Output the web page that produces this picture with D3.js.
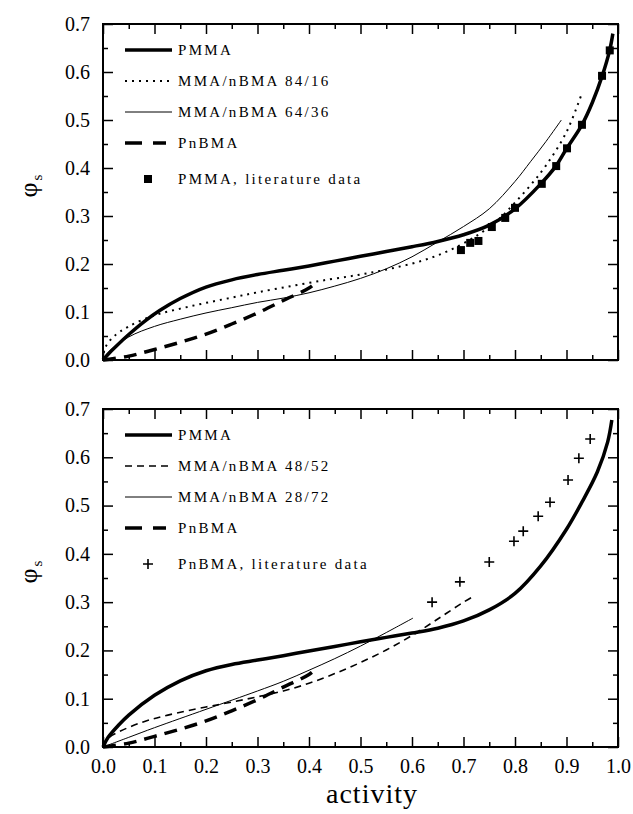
<!DOCTYPE html>
<html>
<head>
<meta charset="utf-8">
<script src="https://cdn.jsdelivr.net/npm/d3@7"></script>
<style>
  body { margin: 0; background: #fff; }
  svg text { font-family: "Liberation Serif", "Times New Roman", serif; fill: #000; }
  .tick text { font-size: 20px; }
  .tick line { stroke: #000; stroke-width: 1.5; }
  .leg { font-size: 15px; letter-spacing: 2.3px; }
</style>
</head>
<body>
<svg id="chart" width="633" height="814"></svg>
<script>
// ---- data: [activity, phi_s] ----
const pmmaTop = [[0,0],[0.01,0.012],[0.025,0.028],[0.05,0.053],[0.08,0.08],[0.11,0.103],[0.15,0.128],[0.2,0.152],[0.25,0.167],[0.3,0.178],[0.35,0.187],[0.4,0.196],[0.45,0.206],[0.5,0.216],[0.55,0.226],[0.6,0.236],[0.65,0.247],[0.7,0.261],[0.75,0.281],[0.8,0.315],[0.85,0.367],[0.88,0.405],[0.9,0.44],[0.93,0.49],[0.95,0.536],[0.97,0.594],[0.984,0.646],[0.99,0.68]]
const mma8416 = [[0,0],[0.004,0.025],[0.02,0.048],[0.05,0.07],[0.1,0.093],[0.15,0.107],[0.2,0.119],[0.25,0.13],[0.3,0.141],[0.37,0.155],[0.44,0.168],[0.5,0.178],[0.557,0.19],[0.62,0.207],[0.674,0.229],[0.73,0.262],[0.77,0.295],[0.8,0.328],[0.83,0.364],[0.86,0.405],[0.9,0.475],[0.93,0.556]]
const mma6436 = [[0,0],[0.01,0.016],[0.05,0.048],[0.1,0.07],[0.15,0.085],[0.2,0.098],[0.25,0.109],[0.3,0.12],[0.35,0.129],[0.4,0.14],[0.45,0.154],[0.5,0.17],[0.55,0.19],[0.6,0.215],[0.65,0.246],[0.7,0.278],[0.75,0.315],[0.8,0.372],[0.83,0.413],[0.86,0.455],[0.89,0.5]]
const pnbma = [[0,0],[0.05,0.008],[0.1,0.022],[0.15,0.037],[0.2,0.054],[0.25,0.075],[0.3,0.098],[0.35,0.124],[0.4,0.15],[0.415,0.163]]
const pmmaLit = [[0.695,0.229],[0.713,0.244],[0.729,0.248],[0.755,0.277],[0.781,0.296],[0.8,0.317],[0.852,0.367],[0.88,0.404],[0.901,0.441],[0.93,0.49],[0.969,0.592],[0.984,0.645]]

const pmmaBot = [[0,0],[0.01,0.02],[0.03,0.045],[0.05,0.066],[0.1,0.107],[0.15,0.137],[0.2,0.158],[0.25,0.171],[0.3,0.18],[0.35,0.189],[0.4,0.199],[0.45,0.208],[0.5,0.218],[0.55,0.227],[0.6,0.236],[0.65,0.246],[0.7,0.261],[0.75,0.284],[0.8,0.318],[0.85,0.375],[0.9,0.451],[0.93,0.507],[0.96,0.57],[0.98,0.632],[0.988,0.677]]
const mma4852 = [[0,0],[0.01,0.018],[0.03,0.031],[0.078,0.052],[0.126,0.066],[0.2,0.083],[0.25,0.093],[0.3,0.104],[0.35,0.116],[0.4,0.132],[0.45,0.152],[0.5,0.175],[0.55,0.201],[0.6,0.231],[0.65,0.265],[0.7,0.3],[0.718,0.311]]
const mma2872 = [[0,0],[0.05,0.02],[0.1,0.04],[0.2,0.078],[0.3,0.116],[0.35,0.136],[0.4,0.159],[0.45,0.183],[0.5,0.209],[0.55,0.237],[0.602,0.267]]
const pnbmaLit = [[0.639,0.3],[0.693,0.342],[0.75,0.383],[0.798,0.426],[0.816,0.447],[0.845,0.478],[0.868,0.507],[0.903,0.553],[0.924,0.598],[0.946,0.638]]

const xMajor = d3.range(0, 1.0001, 0.1)
const xMinor = d3.range(0.05, 1, 0.1)
const yMajor = d3.range(0, 0.7001, 0.1)
const yMinor = d3.range(0.05, 0.7, 0.1)

const svg = d3.select('#chart')
const left = 103, right = 618
const x = d3.scaleLinear().domain([0, 1]).range([left, right])

// line styles
const styles = {
  solidThick: { w: 3.5, dash: null },
  dotted: { w: 2, dash: '2,5' },
  thin: { w: 1, dash: null },
  dashThick: { w: 3.5, dash: '13,8' },
  dashThin: { w: 1.6, dash: '7,5' }
}

function drawPanel(top, bottom, series, points, marker, showXLabels) {
  const y = d3.scaleLinear().domain([0, 0.7]).range([bottom, top])
  const g = svg.append('g')

  // ticks on all four sides, pointing inward
  const addAxis = (axisFn, scale, vals, size, tr, labels) => {
    const ax = axisFn(scale).tickValues(vals).tickSize(-size).tickSizeOuter(0)
    if (labels) ax.tickFormat(d3.format('.1f'))
    else ax.tickFormat('')
    const a = g.append('g').attr('transform', tr).call(ax)
    a.select('.domain').remove()
    return a
  }
  const xb = addAxis(d3.axisBottom, x, xMajor, 10, `translate(0,${bottom})`, showXLabels)
  xb.call(a => a.selectAll('text').attr('y', 12))
  addAxis(d3.axisBottom, x, xMinor, 5, `translate(0,${bottom})`, false)
  addAxis(d3.axisTop, x, xMajor, 10, `translate(0,${top})`, false)
  addAxis(d3.axisTop, x, xMinor, 5, `translate(0,${top})`, false)
  const yl = addAxis(d3.axisLeft, y, yMajor, 10, `translate(${left},0)`, true)
  yl.call(a => a.selectAll('text').attr('x', -13))
  addAxis(d3.axisLeft, y, yMinor, 5, `translate(${left},0)`, false)
  addAxis(d3.axisRight, y, yMajor, 10, `translate(${right},0)`, false)
  addAxis(d3.axisRight, y, yMinor, 5, `translate(${right},0)`, false)

  g.append('rect')
    .attr('x', left).attr('y', top)
    .attr('width', right - left).attr('height', bottom - top)
    .attr('fill', 'none').attr('stroke', '#000').attr('stroke-width', 2)

  const line = d3.line().x(d => x(d[0])).y(d => y(d[1])).curve(d3.curveCatmullRom.alpha(0.5))

  series.forEach((s, i) => {
    const st = styles[s.style]
    g.append('path')
      .datum(s.data)
      .attr('d', line)
      .attr('fill', 'none')
      .attr('stroke', '#000')
      .attr('stroke-width', st.w)
      .attr('stroke-dasharray', st.dash)

    // legend
    const ly = top + 26 + i * 31
    g.append('line')
      .attr('x1', 125).attr('x2', s.style == 'dashThick' ? 166 : 172)
      .attr('y1', ly).attr('y2', ly)
      .attr('stroke', '#000')
      .attr('stroke-width', st.w)
      .attr('stroke-dasharray', s.style == 'dashThick' ? '17,11' : st.dash)
    g.append('text').attr('class', 'leg')
      .attr('x', 178).attr('y', ly + 5)
      .text(s.name)
  })

  const drawMarker = (sel) => {
    if (marker.type == 'square') {
      sel.append('rect')
        .attr('x', -4).attr('y', -4).attr('width', 8).attr('height', 8)
        .attr('fill', '#000')
    } else {
      sel.append('path')
        .attr('d', 'M-5,0H5M0,-5V5')
        .attr('stroke', '#000').attr('stroke-width', 1.6)
    }
  }

  g.selectAll('.pt').data(points).enter()
    .append('g').attr('class', 'pt')
    .attr('transform', d => `translate(${x(d[0])},${y(d[1])})`)
    .call(drawMarker)

  const my = top + 26 + series.length * 31 + 5
  g.append('g').attr('transform', `translate(148,${my})`).call(drawMarker)
  g.append('text').attr('class', 'leg')
    .attr('x', 178).attr('y', my + 5)
    .text(marker.name)

  // y axis title
  const yt = g.append('text')
    .attr('transform', `translate(37,${(top + bottom) / 2 - 6}) rotate(-90)`)
    .attr('text-anchor', 'middle')
    .attr('font-size', 26)
  yt.append('tspan').text('φ')
  yt.append('tspan').attr('font-size', 15).attr('dy', 5).attr('dx', 2).text('s')
}

drawPanel(24, 360, [
  { name: 'PMMA', data: pmmaTop, style: 'solidThick' },
  { name: 'MMA/nBMA 84/16', data: mma8416, style: 'dotted' },
  { name: 'MMA/nBMA 64/36', data: mma6436, style: 'thin' },
  { name: 'PnBMA', data: pnbma, style: 'dashThick' }
], pmmaLit, { type: 'square', name: 'PMMA, literature data' }, false)

drawPanel(409, 747, [
  { name: 'PMMA', data: pmmaBot, style: 'solidThick' },
  { name: 'MMA/nBMA 48/52', data: mma4852, style: 'dashThin' },
  { name: 'MMA/nBMA 28/72', data: mma2872, style: 'thin' },
  { name: 'PnBMA', data: pnbma, style: 'dashThick' }
], pnbmaLit, { type: 'cross', name: 'PnBMA, literature data' }, true)

svg.append('text')
  .attr('x', 372).attr('y', 803)
  .attr('text-anchor', 'middle')
  .attr('font-size', 28)
  .attr('letter-spacing', 1)
  .text('activity')
</script>
</body>
</html>
